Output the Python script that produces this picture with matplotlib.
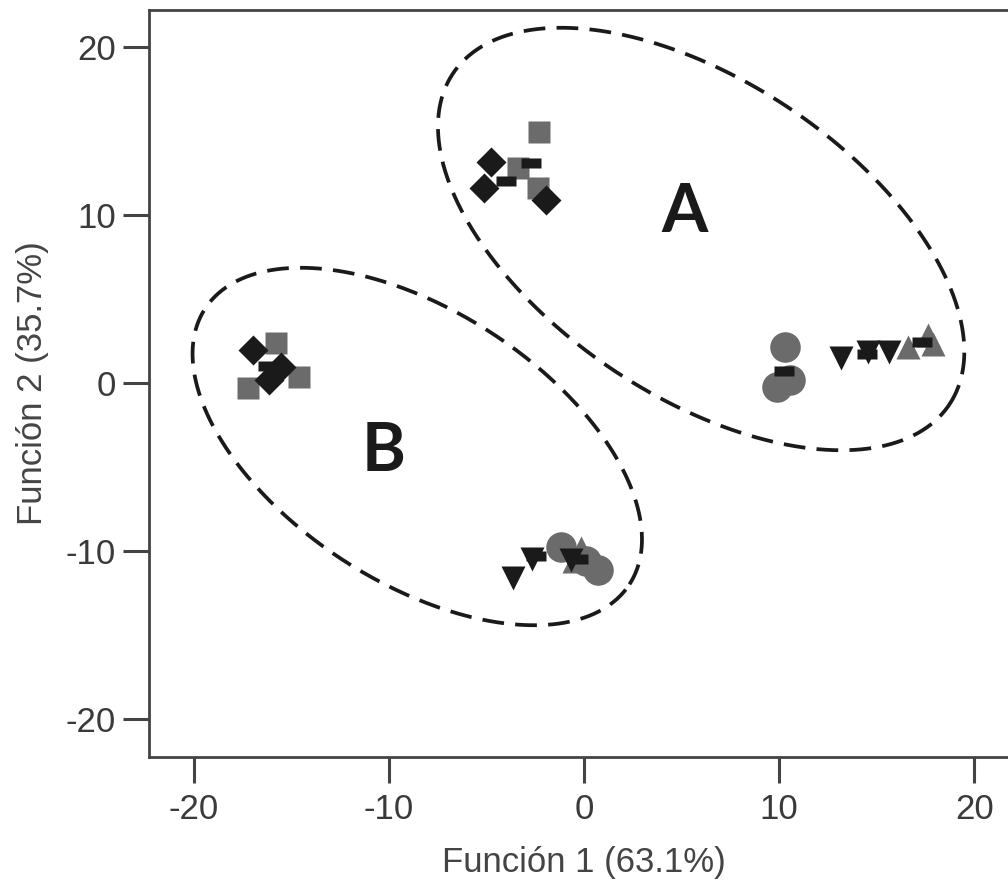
import numpy as np
import matplotlib.pyplot as plt
from matplotlib.path import Path

plt.rcParams['font.family'] = ['Liberation Sans', 'DejaVu Sans']
plt.rcParams['axes.unicode_minus'] = False

# discriminant scores per group (function 1, function 2)
diam_A_x = [-4.77, -5.13, -1.95]
diam_A_y = [13.15, 11.6, 10.9]
sq_A_x = [-2.3, -3.4, -2.36]
sq_A_y = [14.95, 12.8, 11.6]
circ_A_x = [10.3, 9.9, 10.56]
circ_A_y = [2.14, -0.24, 0.18]
down_A_x = [13.18, 14.56, 15.64]
down_A_y = [1.49, 1.85, 1.85]
up_A_x = [16.6, 17.64, 17.9]
up_A_y = [2.14, 2.86, 2.32]

diam_B_x = [-16.97, -16.15, -15.54]
diam_B_y = [1.96, 0.18, 0.95]
sq_B_x = [-15.8, -17.23, -14.6]
sq_B_y = [2.38, -0.3, 0.36]
circ_B_x = [-1.18, 0.72, 0.1]
circ_B_y = [-9.76, -11.13, -10.6]
down_B_x = [-3.65, -2.65, -0.67]
down_B_y = [-11.6, -10.45, -10.54]
up_B_x = [-0.15, 0.3, -0.5]
up_B_y = [-9.8, -10.4, -10.6]

# group centroids
cent_x = [-4.0, -2.7, 10.25, 14.5, 17.3, -16.2, -15.9, -2.45, -0.3]
cent_y = [12.0, 13.1, 0.7, 1.7, 2.45, 1.0, 0.8, -10.3, -10.5]

xticks = [-20, -10, 0, 10, 20]
yticks = [-20, -10, 0, 10, 20]

gray = '#6b6b6b'
black = '#1a1a1a'

fig = plt.figure(figsize=(10.08, 8.86), dpi=100)
ax = fig.add_axes([149/1008, 129/886, 870/1008, 747/886])
ax.set_xlim(-22.28, 22.28)
ax.set_ylim(-22.26, 22.2)

ax.plot(sq_A_x + sq_B_x, sq_A_y + sq_B_y, 's', ms=16.5, color=gray, mec='none')
ax.plot(circ_A_x + circ_B_x, circ_A_y + circ_B_y, 'o', ms=22, color=gray, mec='none')
ax.plot(up_A_x + up_B_x, up_A_y + up_B_y, '^', ms=17, color=gray, mec='none')
ax.plot(diam_A_x + diam_B_x, diam_A_y + diam_B_y, 'D', ms=15, color=black, mec='none')
ax.plot(down_A_x + down_B_x, down_A_y + down_B_y, 'v', ms=17, color=black, mec='none')

bar = Path([(-1, -0.45), (1, -0.45), (1, 0.45), (-1, 0.45), (-1, -0.45)],
           [Path.MOVETO, Path.LINETO, Path.LINETO, Path.LINETO, Path.CLOSEPOLY])
ax.plot(cent_x, cent_y, ls='none', marker=bar, ms=14.5, color=black, mec='none')

# dashed ellipses around the two clusters
fig.canvas.draw()
bb = ax.get_window_extent()
px_x = bb.width / (ax.get_xlim()[1] - ax.get_xlim()[0])
px_y = bb.height / (ax.get_ylim()[1] - ax.get_ylim()[0])
ratio = px_x / px_y


def ellipse(cx, cy, a, b, ang):
    t = np.linspace(0, 2 * np.pi, 400)
    th = np.deg2rad(ang)
    u = a * np.cos(t) * np.cos(th) - b * np.sin(t) * np.sin(th)
    v = a * np.cos(t) * np.sin(th) + b * np.sin(t) * np.cos(th)
    ax.plot(cx + u, cy + v * ratio, color=black, lw=2.7, ls=(0, (5.8, 3)))


ellipse(6.0, 8.57, 15.28, 8.08, -33.7)
ellipse(-8.54, -3.78, 12.96, 6.95, -33.0)

ax.text(5.13, 10.1, 'A', fontsize=48, fontweight='bold', family=['Lato', 'DejaVu Sans'],
        ha='center', va='center', color=black)
ax.text(-10.26, -4.1, 'B', fontsize=48, fontweight='bold', family=['Lato', 'DejaVu Sans'],
        ha='center', va='center', color=black)

ax.set_xticks(xticks)
ax.set_yticks(yticks)
ax.tick_params(length=19, width=2.2, color='#444444', labelsize=25,
               labelcolor='#3a3a3a')
ax.tick_params(axis='x', pad=7)
ax.tick_params(axis='y', pad=5)
for s in ax.spines.values():
    s.set_linewidth(2)
    s.set_color('#444444')

ax.set_xlabel('Función 1 (63.1%)', fontsize=25, color='#444444', labelpad=14)
ax.set_ylabel('Función 2 (35.7%)', fontsize=25, color='#444444', labelpad=12)

plt.savefig('out.png', dpi=100)
